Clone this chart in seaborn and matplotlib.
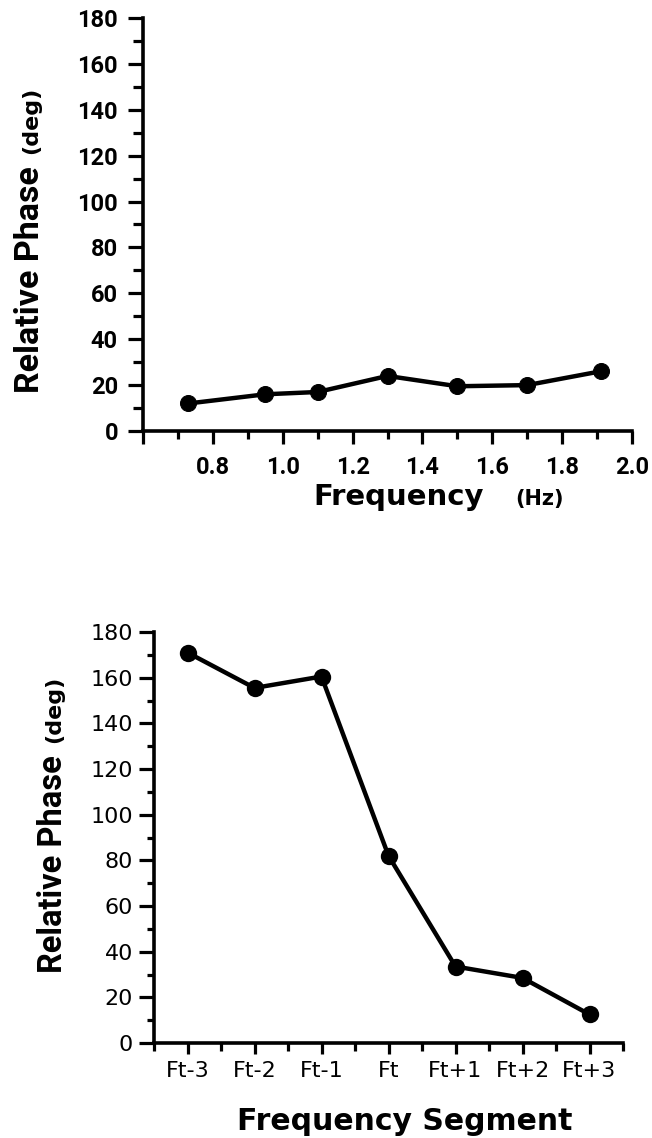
import matplotlib
matplotlib.use("Agg")
import matplotlib.pyplot as plt
from matplotlib.ticker import MultipleLocator, FixedLocator
import seaborn as sns
import pandas as pd

# Relative phase against driving frequency
freq_hz = [0.73, 0.95, 1.10, 1.30, 1.50, 1.70, 1.91]
phase_freq = [12, 16, 17, 24, 19.5, 20, 26]

# Relative phase by frequency segment around the transition
segments = ["Ft-3", "Ft-2", "Ft-1", "Ft", "Ft+1", "Ft+2", "Ft+3"]
phase_seg = [171, 155.5, 160.5, 82, 33.5, 28.5, 12.5]

freq_ticks = [0.6, 0.8, 1.0, 1.2, 1.4, 1.6, 1.8, 2.0]
freq_ticklabels = ["", "0.8", "1.0", "1.2", "1.4", "1.6", "1.8", "2.0"]

sns.set_style("ticks")
plt.rcParams["font.family"] = ["Roboto", "DejaVu Sans"]

W, H = 652, 1138
fig = plt.figure(figsize=(W / 100, H / 100), dpi=100)


def box(left, top, right, bottom):
    return [left / W, 1 - bottom / H, (right - left) / W, (bottom - top) / H]


ax1 = fig.add_axes(box(143, 18, 632, 431))
ax2 = fig.add_axes(box(154, 632, 623, 1043))

# --- upper panel ---
df1 = pd.DataFrame({"f": freq_hz, "p": phase_freq})
sns.lineplot(data=df1, x="f", y="p", ax=ax1, color="black", linewidth=3.2,
             marker="o", markersize=11.5, markeredgecolor="black")
ax1.set_xlim(0.6, 2.0)
ax1.set_ylim(0, 180)
ax1.xaxis.set_major_locator(FixedLocator(freq_ticks))
ax1.set_xticklabels(freq_ticklabels)
ax1.xaxis.set_minor_locator(MultipleLocator(0.1))
ax1.yaxis.set_major_locator(MultipleLocator(20))
ax1.yaxis.set_minor_locator(MultipleLocator(10))
ax1.tick_params(axis="y", which="major", length=11, width=2.3, pad=7,
                labelsize=17)
ax1.tick_params(axis="x", which="major", length=9, width=2.3, pad=9,
                labelsize=17)
ax1.tick_params(axis="y", which="minor", length=7, width=2.3)
ax1.tick_params(axis="x", which="minor", length=6, width=2.3)
for lab in ax1.get_xticklabels() + ax1.get_yticklabels():
    lab.set_fontweight("bold")
    lab.set_family("Roboto")

# --- lower panel ---
sns.pointplot(x=segments, y=phase_seg, ax=ax2, color="black", linewidth=3.2,
              markersize=12.5, markeredgewidth=0)
ax2.set_xlim(-0.5, len(segments) - 0.5)
ax2.set_ylim(0, 180)
ax2.xaxis.set_minor_locator(MultipleLocator(1, offset=0.5))
ax2.yaxis.set_major_locator(MultipleLocator(20))
ax2.yaxis.set_minor_locator(MultipleLocator(10))
ax2.tick_params(axis="y", which="major", length=11, width=2.3, pad=4,
                labelsize=16)
ax2.tick_params(axis="x", which="major", length=8, width=2.3, pad=5,
                labelsize=16)
ax2.tick_params(axis="y", which="minor", length=5, width=2.3)
ax2.tick_params(axis="x", which="minor", length=6, width=2.3)
for lab in ax2.get_xticklabels() + ax2.get_yticklabels():
    lab.set_family("DejaVu Sans")

for ax in (ax1, ax2):
    sns.despine(ax=ax)
    ax.set_xlabel("")
    ax.set_ylabel("")
    for side in ("left", "bottom"):
        ax.spines[side].set_linewidth(2.6)
        ax.spines[side].set_color("black")
    ax.tick_params(colors="black", which="both")


def px(x, y):
    return x / W, 1 - y / H


# axis titles
big = dict(family="Roboto", fontweight="bold", color="black")
wide = dict(family="DejaVu Sans", fontweight="bold", color="black")
rot = dict(rotation=90, rotation_mode="anchor", ha="left", va="baseline")


def vertical_label(x_base, y_start, size, unit_size, gap=12):
    """Rotated 'Relative Phase' with a smaller '(deg)' continuing above it."""
    main = fig.text(*px(x_base, y_start), "Relative Phase", fontsize=size,
                    **big, **rot)
    fig.canvas.draw()
    ext = main.get_window_extent()
    top_px = H - ext.y1
    fig.text(*px(x_base - 2, top_px - gap), "(deg)", fontsize=unit_size,
             **wide, **rot)


vertical_label(39, 393, 24.5, 16)
vertical_label(62, 973, 23.5, 16)

fig.text(*px(313, 505), "Frequency", fontsize=21, ha="left", va="baseline", **wide)
fig.text(*px(515, 505), "(Hz)", fontsize=15, ha="left", va="baseline", **wide)
fig.text(*px(237, 1130), "Frequency Segment", fontsize=21.5, ha="left",
         va="baseline", **wide)

fig.savefig("out.png", dpi=100, facecolor="white")
